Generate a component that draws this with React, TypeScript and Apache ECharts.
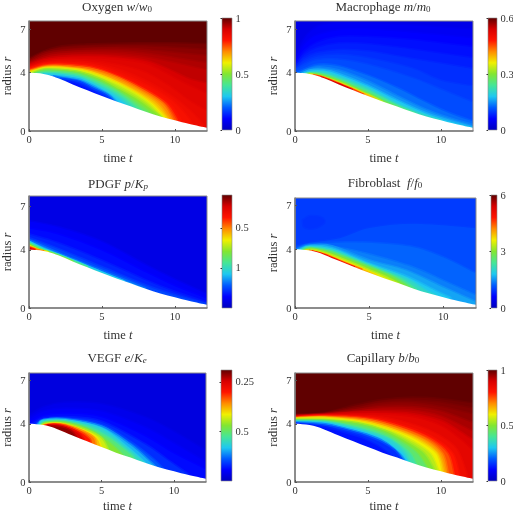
import React, { useEffect, useRef } from "react";
import * as echarts from "echarts";

const FONT = "'Liberation Serif', serif";
const INK = "#333333";

// Colour bar, bottom to top at even steps.
const barColors = ["#0000be","#0000ff","#005aff","#1ec8f0","#46e696","#82e632","#f0f000","#ff8c00","#ff1400","#d80000","#600000"];

// Lower edge of the domain
const boundaryT = [0,0.5,1,1.5,2,3,4,5,6,7,8,9,10,11,12.2];
const boundaryR = [4,3.98,3.92,3.8,3.62,3.2,2.8,2.4,2.02,1.68,1.32,1,0.74,0.48,0.22];

const xTicks = [0,5,10];
const yTicks = [0,4,7];

// Each panel: level values (as a fraction of the colour bar), one isoline per level, far from boundary first
const oxygenBase = 1;
const oxygenLevels = [.98,.965,.95,.935,.92,.9,.88,.86,.84,.82,.8,.75,.7,.65,.6,.55,.5,.45,.4,.35,.3,.25,.2,.15,.12];
const oxygenCurves = [
 [[0,5],[1,5.5],[2,5.8],[3.5,5.95],[5,6],[7.5,6.05],[10,6.05],[12.2,6]],
 [[0,4.9],[1,5.4],[2,5.65],[4,5.8],[6,5.85],[8,5.85],[10,5.75],[12.2,5.6]],
 [[0,4.8],[1,5.3],[2,5.5],[4,5.65],[6,5.7],[8,5.6],[10,5.4],[12.2,5.2]],
 [[0,4.72],[1,5.17],[2,5.38],[4,5.5],[6,5.5],[8,5.35],[10,5.05],[12.2,4.7]],
 [[0,4.65],[1,5.05],[2,5.25],[4,5.35],[6,5.3],[8,5.1],[10,4.7],[12.2,4.2]],
 [[0,4.57],[1,4.95],[2,5.12],[4,5.2],[6,5.12],[8,4.85],[9.5,4.3],[11,3.6],[12.2,3.3]],
 [[0,4.5],[1,4.85],[2,5],[4,5.05],[6,4.95],[7.8,4.7],[9,4.2],[10.5,3.4],[12.2,2.6]],
 [[0,4.43],[1,4.76],[2,4.9],[4,4.88],[6,4.6],[8,4.05],[9.8,3],[11,2.1],[12.2,1.4]],
 [[0,4.37],[1,4.68],[2,4.8],[4.2,4.7],[6.3,4.2],[8.2,3.4],[10,2.3],[11.3,1.2],[12,0.4]],
 [[0,4.33],[1,4.64],[2,4.72],[4.3,4.58],[6.35,3.95],[8.25,3.1],[9.85,2.1],[10.9,1],[11.2,0.5]],
 [[0,4.3],[1,4.6],[2.12,4.65],[4.4,4.46],[6.45,3.73],[8.3,2.81],[9.65,1.9],[10.45,0.75]],
 [[0,4.22],[1,4.52],[2.12,4.58],[4.3,4.38],[6.2,3.73],[8.05,2.81],[9.4,1.9],[10.15,0.8]],
 [[0,4.15],[1,4.45],[2.12,4.5],[4.17,4.3],[6,3.73],[7.8,2.81],[9.2,1.9],[9.9,0.8]],
 [[0.03,4.1],[1,4.4],[2.12,4.43],[4,4.2],[5.7,3.65],[7.45,2.8],[8.85,1.9],[9.65,0.85]],
 [[0.05,4.05],[1,4.35],[2.12,4.37],[3.95,4.14],[5.5,3.61],[7.1,2.81],[8.5,1.9],[9.4,0.92]],
 [[0.15,4.03],[1,4.3],[2.12,4.3],[3.7,4.1],[5.2,3.6],[6.8,2.85],[8.2,1.95],[9.2,0.95]],
 [[0.25,4],[1,4.25],[2.12,4.23],[3.49,4.07],[4.86,3.61],[6.2,2.92],[7.6,2.12],[8.5,1.44],[9.08,0.98]],
 [[0.4,3.98],[1,4.17],[2.12,4.15],[3.49,3.97],[4.86,3.47],[6.2,2.75],[7.55,1.9],[8.3,1.3],[8.8,0.9]],
 [[0.5,3.97],[1.1,4.1],[2.12,4.07],[3.49,3.87],[4.86,3.33],[6.1,2.68],[7.4,1.75],[8,1.2]],
 [[0.7,3.95],[1.2,4.02],[2.12,3.97],[3.49,3.75],[4.86,3.18],[6,2.58],[6.95,1.9],[7.5,1.3]],
 [[1,3.93],[2.12,3.88],[3.49,3.65],[4.86,3.03],[5.8,2.5],[6.6,1.9],[7,1.4]],
 [[1.5,3.8],[2.5,3.72],[3.49,3.55],[4.6,3.03],[5.6,2.45],[6.3,1.75]],
 [[1.7,3.78],[2.6,3.62],[3.49,3.45],[4.5,2.97],[5.5,2.45],[6,1.9]],
 [[2.2,3.62],[3.49,3.38],[4.4,2.92],[5.3,2.47],[5.9,1.95]],
 [[2.6,3.45],[3.49,3.2],[4.4,2.75],[5,2.4]],
];

const macrophageBase = 0.065;
const macrophageLevels = [.083,.1,.115,.132,.15,.166,.183,.217,.25,.3,.367,.433,.5,.6,.7,.83,.95];
const macrophageCurves = [
 [[0,5],[0.5,6.2],[1.2,7],[2,7.35],[4,7.5],[8,7.3],[12.2,7]],
 [[0,4.8],[0.55,5.85],[1.35,6.55],[3,6.95],[5,7],[8,6.8],[12.2,6.4]],
 [[0,4.6],[0.6,5.5],[1.5,6.1],[3,6.5],[5,6.5],[8,6.3],[12.2,5.8]],
 [[0,4.47],[0.6,5.25],[1.5,5.75],[3,6.05],[5,6],[8,5.65],[12.2,5.05]],
 [[0,4.35],[0.6,5],[1.5,5.4],[3,5.6],[5,5.5],[8,5],[12.2,4.3]],
 [[0,4.27],[0.65,4.8],[1.5,5.15],[3,5.28],[5,5.05],[8,4.35],[10,3.5],[12.2,3.1]],
 [[0,4.2],[0.7,4.6],[1.5,4.9],[3,4.95],[5,4.6],[8,3.7],[10,2.9],[12.2,2]],
 [[0.1,4.05],[0.8,4.35],[1.6,4.6],[3,4.5],[5,3.85],[7,3],[9,2],[10.5,1.3],[12.2,0.7]],
 [[0.3,4],[1,4.3],[1.8,4.4],[3,4.2],[5,3.45],[7,2.45],[9,1.5],[10.5,0.95],[12.2,0.45]],
 [[0.5,4],[1.1,4.2],[2,4.2],[3,3.95],[5,3.15],[7,2.15],[9,1.25],[10.5,0.75],[12.2,0.28]],
 [[0.7,3.98],[1.3,4.08],[2,4.05],[3,3.75],[5,2.95],[7,1.9],[9,1.08],[10,0.78]],
 [[0.8,3.97],[1.4,4],[2.2,3.85],[3,3.55],[5,2.75],[6.5,2.02],[7.5,1.55],[8.2,1.25]],
 [[0.9,3.95],[1.5,3.93],[2.5,3.68],[3.5,3.3],[5,2.6],[6.2,2],[7,1.65]],
 [[1,3.94],[2,3.73],[3,3.38],[4,2.95],[5,2.52],[6,2.03]],
 [[1.2,3.88],[2,3.7],[3,3.32],[4,2.9],[5,2.46],[5.5,2.2]],
 [[1.3,3.85],[2,3.68],[3,3.28],[4,2.86],[4.7,2.52]],
 [[1.8,3.7],[3,3.24],[3.9,2.85]],
];

const pdgfBase = 0.06;
const pdgfLevels = [.09,.11,.14,.18,.25,.35,.45,.55,.65,.75,.85,.95];
const pdgfCurves = [
 [[0,6],[2,5.6],[5,4.6],[8,3],[10,2],[12.2,1]],
 [[0,5.5],[2,5.1],[5,4],[8,2.5],[10,1.55],[12.2,0.7]],
 [[0,5.1],[2,4.5],[5,3.3],[8,1.95],[10,1.15],[12.2,0.42]],
 [[0,4.85],[2,4.1],[5,2.85],[8,1.6],[10,0.92],[12.2,0.3]],
 [[0,4.7],[1.5,4.05],[3,3.4],[5,2.6],[8,1.38]],
 [[0,4.6],[1,4.1],[3,3.32],[5,2.48],[6.5,1.87]],
 [[0,4.5],[1,4.03],[2,3.68],[4,2.85]],
 [[0,4.4],[0.8,4.02],[1.5,3.8],[3,3.22]],
 [[0,4.3],[0.6,4.05],[1.3,3.86]],
 [[0,4.25],[0.5,4.06],[1,3.93]],
 [[0,4.18],[0.4,4.03]],
 [[0,4.1],[0.2,4.02]],
];

const fibroblastBase = 0.165;
const fibroblastLevels = [.155,.183,.208,.233,.267,.3,.35,.417,.5,.583,.667,.767,.9];
const fibroblastCurves = [
 [[0.5,6],[1,6.3],[1.8,6.2],[2,5.8],[1.3,5.4],[0.6,5.5],[0.5,6]],
 [[0,4.3],[1,4.5],[3,4.8],[5,5.5],[8,5.8],[12.2,5.5]],
 [[0.05,4.1],[1,4.4],[3,4.5],[5,4.5],[8,4.2],[10,3.5],[12.2,2.4]],
 [[0.1,4.05],[1,4.35],[3,4.15],[5,3.7],[8,2.8],[10,1.9],[12.2,0.9]],
 [[0.2,4.02],[1,4.3],[2.5,4.25],[5,3.3],[7.5,2.6],[10,1.45],[12.2,0.45]],
 [[0.3,4],[1,4.25],[2.5,4.1],[5,3.07],[7.5,2.2],[9.5,1.2],[10.5,0.72]],
 [[0.4,4],[1,4.2],[2.5,4],[5,3],[7.5,2.05],[8.8,1.25],[9.5,0.9]],
 [[0.5,4],[1,4.15],[2.5,3.9],[5,2.92],[7,2.1],[8.2,1.3]],
 [[0.6,3.98],[1.2,4.08],[2.5,3.8],[5,2.82],[6.5,2.2],[7.7,1.45]],
 [[0.7,3.97],[1.5,3.96],[3,3.45],[5,2.62],[6,2.2],[7,1.68]],
 [[0.8,3.95],[2,3.72],[3,3.3],[4.5,2.72],[5.5,2.25]],
 [[1,3.93],[2,3.68],[3,3.26],[4.5,2.66]],
 [[1.2,3.87],[2,3.64],[3,3.21],[4,2.81]],
];

const vegfBase = 0.05;
const vegfLevels = [.07,.09,.11,.15,.2,.28,.35,.43,.5,.57,.65,.72,.8,.9,.96];
const vegfCurves = [
 [[0,4.6],[1,5.2],[2.5,5.5],[5,5.4],[8,4.5],[10,3.5],[12.2,2.2]],
 [[0,4.35],[1,4.9],[2.5,5.1],[5,4.9],[8,3.8],[10,2.7],[12.2,1.4]],
 [[0.1,4.15],[1,4.6],[2.5,4.75],[5,4.5],[8,3.2],[10,2],[12.2,0.9]],
 [[0.3,4.02],[1,4.4],[2.5,4.5],[5,4.2],[8,2.65],[9.5,1.6],[11,0.55]],
 [[0.5,4],[1,4.32],[2.5,4.4],[5,3.95],[7,2.8],[8.6,1.6],[9.3,0.9]],
 [[0.6,4],[1,4.3],[2.5,4.35],[5,3.85],[7,2.6],[8.4,1.4],[8.8,1]],
 [[0.7,4],[1,4.25],[2.5,4.28],[5,3.7],[6.8,2.4],[8,1.35]],
 [[0.8,3.98],[1.2,4.18],[2.5,4.2],[4,3.85],[5.5,3.1],[7,1.95],[7.3,1.6]],
 [[0.85,3.95],[1.2,4.13],[2.5,4.13],[4,3.7],[5.5,2.8],[6.5,1.87]],
 [[0.9,3.94],[1.3,4.08],[2.5,4.05],[4,3.6],[5,3.05],[5.5,2.22]],
 [[1,3.93],[1.5,4.05],[2.5,3.98],[3.8,3.55],[4.7,3.05],[5,2.42]],
 [[1,3.93],[1.6,4.03],[2.5,3.96],[3.8,3.5],[4.5,3.05],[4.65,2.55]],
 [[1.1,3.92],[1.7,4],[2.5,3.9],[3.6,3.45],[4.2,3],[4.3,2.7]],
 [[1.2,3.92],[1.8,3.95],[2.5,3.82],[3.4,3.42],[3.8,2.95]],
 [[1.3,3.9],[2.2,3.82],[2.9,3.55],[3.3,3.1]],
];

const capillaryBase = 1;
const capillaryLevels = [.985,.973,.96,.94,.92,.895,.87,.84,.8,.75,.7,.65,.6,.55,.5,.44,.38,.33,.27,.21,.15,.12];
const capillaryCurves = [
 [[0,4.68],[2,4.78],[4,5.3],[6,5.7],[8,5.85],[10,5.75],[12.2,5.45]],
 [[0,4.65],[2,4.75],[4,5.17],[6,5.55],[8,5.65],[10,5.5],[12.2,5.1]],
 [[0,4.62],[2,4.72],[4,5.05],[6,5.4],[8,5.45],[10,5.2],[12.2,4.7]],
 [[0,4.6],[2,4.7],[4,4.95],[6,5.2],[8,5.2],[10,4.9],[12.2,4.1]],
 [[0,4.58],[2,4.68],[4,4.85],[6,5],[8,4.95],[10,4.55],[12.2,3.5]],
 [[0,4.55],[2,4.65],[4,4.8],[6,4.82],[8,4.72],[10,4.25],[11.3,3.5],[12.2,2.9]],
 [[0,4.52],[2.05,4.63],[5.5,4.7],[8,4.5],[10,3.9],[11.3,3],[12.2,2.2]],
 [[0,4.5],[2.05,4.61],[5.4,4.55],[7.9,4.05],[9.8,3.3],[11.1,2.3],[11.8,0.6]],
 [[0,4.48],[2.05,4.6],[5.25,4.44],[7.76,3.8],[9.6,3],[10.84,1.97],[11.3,0.5]],
 [[0,4.46],[2.05,4.55],[5.1,4.37],[7.5,3.75],[9.35,2.95],[10.5,1.97],[10.9,0.6]],
 [[0,4.44],[2.05,4.5],[5.02,4.3],[7.3,3.68],[9.13,2.88],[10.15,1.97],[10.5,0.7]],
 [[0,4.42],[2.05,4.47],[4.9,4.22],[7.05,3.62],[8.8,2.88],[9.9,1.97],[10.3,0.7]],
 [[0,4.38],[2.05,4.44],[4.79,4.14],[6.84,3.57],[8.44,2.88],[9.7,1.97],[10.1,0.7]],
 [[0,4.35],[2.05,4.37],[4.55,4.1],[6.5,3.57],[8.1,2.82],[9.3,1.97],[9.85,0.8]],
 [[0,4.32],[2.05,4.3],[4.33,4.07],[6.16,3.57],[7.76,2.77],[8.9,1.97],[9.58,0.85]],
 [[0,4.28],[2.05,4.25],[4.25,3.98],[6,3.48],[7.7,2.55],[8.5,1.9],[9.1,0.95]],
 [[0,4.24],[2.05,4.19],[4,3.85],[5.7,3.4],[7,2.75],[7.95,1.95],[8.35,1.15]],
 [[0,4.2],[2.05,4.14],[3.88,3.8],[5.47,3.34],[6.62,2.88],[7.53,2.08],[7.87,1.4]],
 [[0,4.16],[2.05,4.08],[3.85,3.68],[5.4,3.2],[6.4,2.7],[7.3,2],[7.7,1.45]],
 [[0,4.12],[2.05,4],[3.6,3.65],[4.9,3.3],[6.1,2.8],[7,2.1],[7.5,1.5]],
 [[0,4.08],[2.05,3.91],[3.42,3.61],[4.79,3.22],[5.93,2.77],[6.84,2.19],[7.4,1.5]],
 [[0,4.04],[2.05,3.8],[3.4,3.4],[4.7,3],[5.7,2.5],[6.4,2],[6.7,1.75]],
];

const titles = [
 "Oxygen {i|w}/{i|w}{s|0}",
 "Macrophage {i|m}/{i|m}{s|0}",
 "PDGF {i|p}/{i|K}{si|p}",
 "Fibroblast  {i|f}/{i|f}{s|0}",
 "VEGF {i|e}/{i|K}{si|e}",
 "Capillary {i|b}/{i|b}{s|0}",
];
const barTicks = [[0,.5,1],[0,.5,1],[.354,.708],[0,.5,1],[.446,.893],[0,.5,1]];
const barLabels = [["0","0.5","1"],["0","0.3","0.6"],["1","0.5"],["0","3","6"],["0.5","0.25"],["0","0.5","1"]];

const baseValues = [oxygenBase, macrophageBase, pdgfBase, fibroblastBase, vegfBase, capillaryBase];
const allLevels = [oxygenLevels, macrophageLevels, pdgfLevels, fibroblastLevels, vegfLevels, capillaryLevels];
const allCurves = [oxygenCurves, macrophageCurves, pdgfCurves, fibroblastCurves, vegfCurves, capillaryCurves];

// layout: plot box and colour bar box in pixels
const plotBoxes = [
 { l:29, r:207, t:21, b:131, rMax:7.55, tMax:12.2, nameGap:16, xGap:20, titleX:117, titleY:6 },
 { l:295, r:473, t:21, b:131, rMax:7.55, tMax:12.2, nameGap:16, xGap:20, titleX:383, titleY:6 },
 { l:29, r:207, t:196, b:308, rMax:7.7, tMax:12.2, nameGap:16, xGap:20, titleX:118, titleY:183 },
 { l:295, r:476, t:198, b:308, rMax:7.5, tMax:12.2, nameGap:16, xGap:20, titleX:385, titleY:182 },
 { l:29, r:206, t:373, b:482, rMax:7.5, tMax:12.2, nameGap:16, xGap:17, titleX:117, titleY:357 },
 { l:295, r:473, t:373, b:482, rMax:7.5, tMax:12.2, nameGap:16, xGap:17, titleX:383, titleY:357 },
];
const barBoxes = [
 { l:222, r:232, t:18, b:130 },
 { l:488, r:497, t:18, b:130 },
 { l:222, r:232, t:195, b:308 },
 { l:491, r:497, t:195, b:308 },
 { l:221, r:232, t:370, b:481 },
 { l:488, r:497, t:370, b:481 },
];

const colorOf = (f: number) => echarts.color.lerp(Math.min(1, Math.max(0, f)), barColors) as string;

function curvePath(p: number[][]) {
  let d = `M${p[0][0]} ${p[0][1]}`;
  for (let i = 0; i < p.length - 1; i++) {
    const a = p[Math.max(0, i - 1)], b = p[i], c = p[i + 1], e = p[Math.min(p.length - 1, i + 2)];
    d += `C${b[0] + (c[0] - a[0]) / 6} ${b[1] + (c[1] - a[1]) / 6} ${c[0] - (e[0] - b[0]) / 6} ${c[1] - (e[1] - b[1]) / 6} ${c[0]} ${c[1]}`;
  }
  return d;
}

const richText = {
  i: { fontFamily: FONT, fontStyle: "italic", color: INK, fontSize: 13 },
  s: { fontFamily: FONT, color: INK, fontSize: 9, verticalAlign: "bottom", padding: [5, 0, 0, 0] },
  si: { fontFamily: FONT, fontStyle: "italic", color: INK, fontSize: 9, verticalAlign: "bottom", padding: [5, 0, 0, 0] },
};
const nameRich = {
  i: { fontFamily: FONT, fontStyle: "italic", color: INK, fontSize: 12.5 },
};

function buildOption() {
  const grid: any[] = [], xAxis: any[] = [], yAxis: any[] = [], series: any[] = [], title: any[] = [];
  plotBoxes.forEach((b, k) => {
    title.push({
      text: titles[k], left: b.titleX, top: b.titleY, padding: 0, textAlign: "center", textVerticalAlign: "middle",
      textStyle: { fontFamily: FONT, fontWeight: "normal", fontSize: 13, color: INK, rich: richText },
    });
    grid.push({ left: b.l, top: b.t, width: b.r - b.l, height: b.b - b.t, outerBoundsMode: "none" });
    xAxis.push({
      type: "value", gridIndex: k, min: 0, max: b.tMax, z: 5,
      name: "time {i|t}", nameLocation: "middle", nameGap: b.xGap,
      nameTextStyle: { fontFamily: FONT, fontSize: 12.5, color: INK, rich: nameRich },
      axisLine: { lineStyle: { color: "#7a7a7a", width: 1.5 } },
      axisTick: { show: true, inside: true, length: 2, customValues: xTicks, lineStyle: { color: "#555" } },
      axisLabel: { customValues: xTicks, fontFamily: FONT, fontSize: 10.5, color: INK, margin: 3 },
      splitLine: { show: false },
    });
    yAxis.push({
      type: "value", gridIndex: k, min: 0, max: b.rMax, z: 5,
      name: "radius {i|r}", nameLocation: "middle", nameGap: b.nameGap, nameRotate: 90,
      nameTextStyle: { fontFamily: FONT, fontSize: 12.5, color: INK, rich: nameRich },
      axisLine: { lineStyle: { color: "#7a7a7a", width: 1.5 } },
      axisTick: { show: true, inside: true, length: 2, customValues: yTicks, lineStyle: { color: "#555" } },
      axisLabel: { customValues: yTicks, fontFamily: FONT, fontSize: 10.5, color: INK, margin: 3.5 },
      splitLine: { show: false },
    });
    const curves = allCurves[k];
    const levels = allLevels[k];
    series.push({
      type: "custom", coordinateSystem: "cartesian2d", xAxisIndex: k, yAxisIndex: k, clip: true, silent: true,
      data: [[-1, baseValues[k], baseValues[k]], ...levels.map((v, i) => [i, v, i ? levels[i - 1] : baseValues[k]])],
      renderItem: (_p: any, api: any) => {
        const i = api.value(0);
        const v = api.value(1);
        const fill = colorOf(v);
        if (i < 0) {
          const a = api.coord([0, 0]), c = api.coord([b.tMax, b.rMax]);
          return { type: "rect", shape: { x: a[0], y: c[1], width: c[0] - a[0], height: a[1] - c[1] }, style: { fill } };
        }
        const pts = curves[i].map((q: number[]) => api.coord(q));
        const foot = api.coord([0, 0])[1];
        const first = curves[i][0], last = curves[i][curves[i].length - 1];
        const closed = first[0] === last[0] && first[1] === last[1];
        const d = closed ? curvePath(pts) + "Z" : curvePath(pts) + `L${pts[pts.length - 1][0]} ${foot}L${pts[0][0]} ${foot}Z`;
        // the edge of a band takes the colour half way to the band before it
        return { type: "path", shape: { pathData: d }, style: { fill, stroke: colorOf((v + api.value(2)) / 2), lineWidth: 1.5 } };
      },
    });
    series.push({
      type: "custom", coordinateSystem: "cartesian2d", xAxisIndex: k, yAxisIndex: k, clip: true, silent: true,
      data: [[0, 0]],
      renderItem: (_p: any, api: any) => {
        const pts = boundaryT.map((t, j) => api.coord([t, boundaryR[j]]));
        const foot = api.coord([0, 0]);
        const d = curvePath(pts) + `L${pts[pts.length - 1][0]} ${foot[1]}L${foot[0]} ${foot[1]}Z`;
        return { type: "path", shape: { pathData: d }, style: { fill: "#ffffff" } };
      },
    });
    series.push({
      type: "custom", coordinateSystem: "cartesian2d", xAxisIndex: k, yAxisIndex: k, clip: false, silent: true, z: 4,
      data: [[0, 0]],
      renderItem: (_p: any, api: any) => {
        const a = api.coord([0, 0]), c = api.coord([b.tMax, b.rMax]);
        return { type: "rect", shape: { x: a[0], y: c[1], width: c[0] - a[0], height: a[1] - c[1] }, style: { fill: "none", stroke: "#8a8a8a", lineWidth: 1 } };
      },
    });
  });
  barBoxes.forEach((b, k) => {
    const g = plotBoxes.length + k;
    grid.push({ left: b.l, top: b.t, width: b.r - b.l, height: b.b - b.t, outerBoundsMode: "none" });
    xAxis.push({ type: "value", gridIndex: g, min: 0, max: 1, show: false });
    yAxis.push({
      type: "value", gridIndex: g, min: 0, max: 1, position: "right", z: 5,
      axisLine: { show: false },
      axisTick: { show: true, inside: true, length: 1.5, customValues: barTicks[k], lineStyle: { color: "#333" } },
      axisLabel: {
        customValues: barTicks[k], fontFamily: FONT, fontSize: 10.5, color: INK, margin: 3.5,
        formatter: (v: number) => barLabels[k][barTicks[k].indexOf(v)] ?? "",
      },
      splitLine: { show: false },
    });
    series.push({
      type: "custom", coordinateSystem: "cartesian2d", xAxisIndex: g, yAxisIndex: g, silent: true,
      data: [[0, 0]],
      renderItem: (_p: any, api: any) => {
        const a = api.coord([0, 0]), c = api.coord([1, 1]);
        return {
          type: "rect",
          shape: { x: a[0], y: c[1], width: c[0] - a[0], height: a[1] - c[1] },
          style: {
            fill: new echarts.graphic.LinearGradient(0, 1, 0, 0, barColors.map((color, i) => ({ offset: i / (barColors.length - 1), color }))),
            stroke: "#8a8a8a", lineWidth: 0.6,
          },
        };
      },
    });
  });
  return { animation: false, backgroundColor: "#ffffff", title, grid, xAxis, yAxis, series };
}

export default function App() {
  const ref = useRef<HTMLDivElement>(null);
  useEffect(() => {
    const chart = echarts.init(ref.current!, undefined, { renderer: "svg" });
    chart.setOption(buildOption());
    return () => chart.dispose();
  }, []);
  return <div ref={ref} style={{ position: "absolute", left: 0, top: 0, width: 513, height: 513, filter: "blur(0.4px)" }} />;
}
